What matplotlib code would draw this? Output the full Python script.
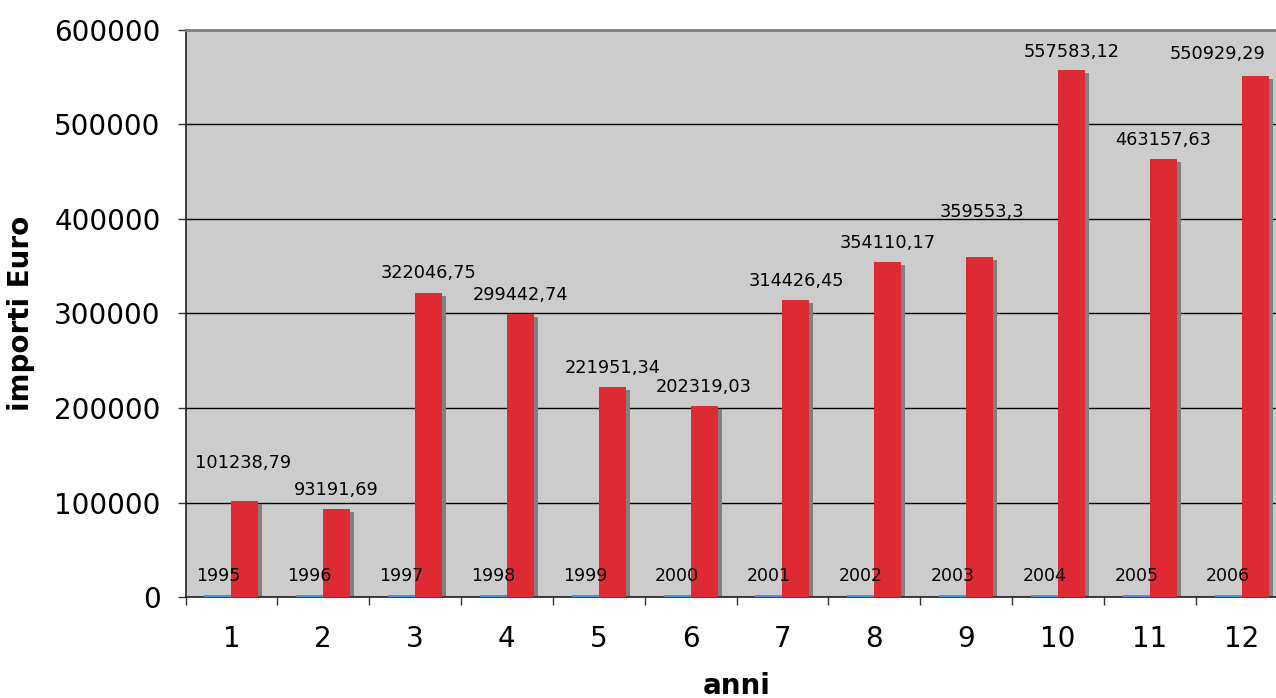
import matplotlib
matplotlib.use("Agg")
import matplotlib.pyplot as plt
import matplotlib.transforms as mtransforms
import numpy as np

# ---- data ----
categories = ["1", "2", "3", "4", "5", "6", "7", "8", "9", "10", "11", "12"]
anni = [1995, 1996, 1997, 1998, 1999, 2000, 2001, 2002, 2003, 2004, 2005, 2006]
importi = [101238.79, 93191.69, 322046.75, 299442.74, 221951.34, 202319.03,
           314426.45, 354110.17, 359553.3, 557583.12, 463157.63, 550929.29]
importi_labels = ["101238,79", "93191,69", "322046,75", "299442,74", "221951,34",
                  "202319,03", "314426,45", "354110,17", "359553,3", "557583,12",
                  "463157,63", "550929,29"]
y_ticks = [0, 100000, 200000, 300000, 400000, 500000, 600000]

# ---- style / layout ----
label_offsets_px = [38, 19, 20, 19, 19, 19, 19, 19, 45, 18, 19, 22]
label_xoffsets_px = [-2, 0, 0, 0, 0, 0, 0, 0, 2, 0, 0, -38]
year_offset_px = 19
W, H, DPI = 1276, 698, 100
BG = "#CCCCCC"
RED = "#DE2B33"
BLUE = "#4A8FE0"
SHADOW = "#808080"
bar_w = 0.294

plt.rcParams["font.family"] = ["DejaVu Sans"]
fig = plt.figure(figsize=(W / DPI, H / DPI), dpi=DPI)
ax = fig.add_axes([185.5 / W, 101 / H, 1102 / W, 567 / H])
ax.set_facecolor(BG)

x = np.arange(len(categories))
px = 1.0 / DPI
shadow_tr = ax.transData + mtransforms.ScaledTranslation(4 * px, -3 * px, fig.dpi_scale_trans)

# shadows
ax.bar(x - bar_w / 2, anni, width=bar_w, color=SHADOW, transform=shadow_tr, zorder=2, linewidth=0)
ax.bar(x + bar_w / 2, importi, width=bar_w, color=SHADOW, transform=shadow_tr, zorder=2, linewidth=0)
# bars
ax.bar(x - bar_w / 2, anni, width=bar_w, color=BLUE, zorder=3, linewidth=0)
ax.bar(x + bar_w / 2, importi, width=bar_w, color=RED, zorder=3, linewidth=0)

# data labels
for i in range(len(categories)):
    ax.annotate(str(anni[i]), (x[i] - bar_w / 2, anni[i]),
                xytext=(0, year_offset_px * 0.72), textcoords="offset points",
                ha="center", va="center", fontsize=12.5, color="black", zorder=5)
    ax.annotate(importi_labels[i], (x[i] + bar_w / 2, importi[i]),
                xytext=(label_xoffsets_px[i] * 0.72, label_offsets_px[i] * 0.72),
                textcoords="offset points",
                ha="center", va="center", fontsize=12.8, color="black", zorder=5)

# axes scales
ax.set_xlim(-0.5, len(categories) - 0.5)
ax.set_ylim(0, 600000)
ax.set_yticks(y_ticks)
ax.set_yticklabels([str(v) for v in y_ticks], fontsize=20)
ax.yaxis.grid(True, color="black", linewidth=1.0, zorder=1)
ax.set_axisbelow(True)

ax.set_xticks(np.arange(-0.5, len(categories), 1.0))
ax.set_xticklabels([])
ax.set_xticks(x, minor=True)
ax.set_xticklabels(categories, minor=True, fontsize=20)
ax.tick_params(axis="x", which="minor", length=0, pad=20)
ax.tick_params(axis="x", which="major", length=6, width=1, color="#333333", direction="out")
ax.tick_params(axis="y", length=6, width=1, color="#333333", direction="out", pad=12)

for s in ["left", "bottom"]:
    ax.spines[s].set_color("#222222")
    ax.spines[s].set_linewidth(1.2)
ax.spines["top"].set_color("#808080")
ax.spines["top"].set_linewidth(2)
ax.spines["right"].set_visible(False)

ax.set_ylabel("importi Euro", fontsize=20, fontweight="bold", labelpad=14)
ax.set_xlabel("anni", fontsize=20, fontweight="bold", labelpad=14)

fig.savefig("out.png", dpi=DPI, facecolor="white")
